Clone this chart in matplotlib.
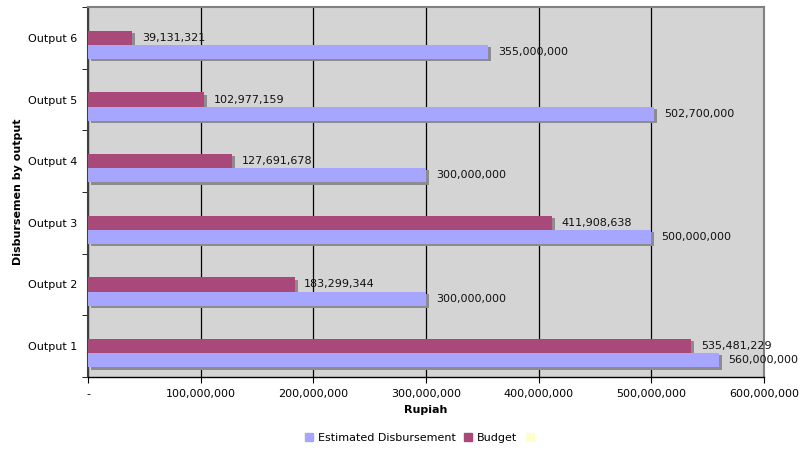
import matplotlib
matplotlib.use("Agg")
import matplotlib.pyplot as plt
import matplotlib.patheffects as pe
from matplotlib.patches import Patch
from matplotlib.ticker import FuncFormatter, FixedLocator

categories = ["Output 1", "Output 2", "Output 3", "Output 4", "Output 5", "Output 6"]
estimated = [560000000, 300000000, 500000000, 300000000, 502700000, 355000000]
budget = [535481229, 183299344, 411908638, 127691678, 102977159, 39131321]
third = [0, 0, 0, 0, 0, 0]
series_names = ["Estimated Disbursement", "Budget", " "]
x_ticks = [0, 100000000, 200000000, 300000000, 400000000, 500000000, 600000000]

c_est = "#a6a6fe"
c_bud = "#a8497a"
c_third = "#ffffcc"
shadow = "#8c8c8c"

plt.rcParams['font.family'] = ['DejaVu Sans']
fig = plt.figure(figsize=(8.1, 4.5), dpi=100)
ax = fig.add_axes([88/810, 1-377/450, (764-88)/810, 370/450])
ax.set_facecolor("#d4d4d4")

ypos = list(range(len(categories)))
h = 0.23
sh = [pe.SimplePatchShadow(offset=(2.2, -1.6), shadow_rgbFace=shadow, alpha=1), pe.Normal()]

bb = ax.barh([y for y in ypos], budget, height=h, color=c_bud, zorder=3)
for p in bb:
    p.set_path_effects(sh)
be = ax.barh([y - h for y in ypos], estimated, height=h, color=c_est, zorder=4)
for p in be:
    p.set_path_effects(sh)
ax.barh([y + h for y in ypos], third, height=h, color=c_third, zorder=3)

for y, v in zip(ypos, budget):
    ax.annotate(f"{v:,}", (v, y), xytext=(7, 0), textcoords="offset points",
                va="center", ha="left", fontsize=8, color="#111111", zorder=6)
for y, v in zip(ypos, estimated):
    ax.annotate(f"{v:,}", (v, y - h), xytext=(7, 0), textcoords="offset points",
                va="center", ha="left", fontsize=8, color="#111111", zorder=6)

ax.set_xlim(0, 600000000)
ax.set_ylim(-0.5, len(categories) - 0.5)
ax.xaxis.set_major_locator(FixedLocator(x_ticks))
ax.xaxis.set_major_formatter(FuncFormatter(lambda v, p: "-" if v == 0 else f"{int(v):,}"))
ax.grid(axis="x", color="black", linewidth=0.9, zorder=1)
ax.set_axisbelow(True)

ax.set_yticks(ypos)
ax.set_yticklabels(categories)
ax.set_yticks([y - 0.5 for y in range(len(categories) + 1)], minor=True)
ax.tick_params(axis="y", which="major", length=0, labelsize=8, pad=8)
ax.tick_params(axis="y", which="minor", length=4, direction="out", color="black")
ax.tick_params(axis="x", which="major", length=4, direction="out", labelsize=8, pad=5)

for s in ["top", "right"]:
    ax.spines[s].set_color("#808080")
    ax.spines[s].set_linewidth(1.5)
ax.spines["left"].set_color("#404040")
ax.spines["left"].set_linewidth(1.5)
ax.spines["bottom"].set_color("black")
ax.spines["bottom"].set_linewidth(1.0)

ax.set_xlabel("Rupiah", fontsize=8, fontweight="bold", labelpad=4)
ax.set_ylabel("Disbursemen by output", fontsize=8, fontweight="bold", labelpad=3)

handles = [Patch(color=c_est), Patch(color=c_bud), Patch(color=c_third)]
fig.legend(handles, series_names, loc="center", bbox_to_anchor=(0.523, 1-438/450),
           ncol=3, frameon=False, fontsize=8, handlelength=0.7, handleheight=0.7,
           handletextpad=0.45, columnspacing=0.8)

fig.savefig("out.png", dpi=100)
